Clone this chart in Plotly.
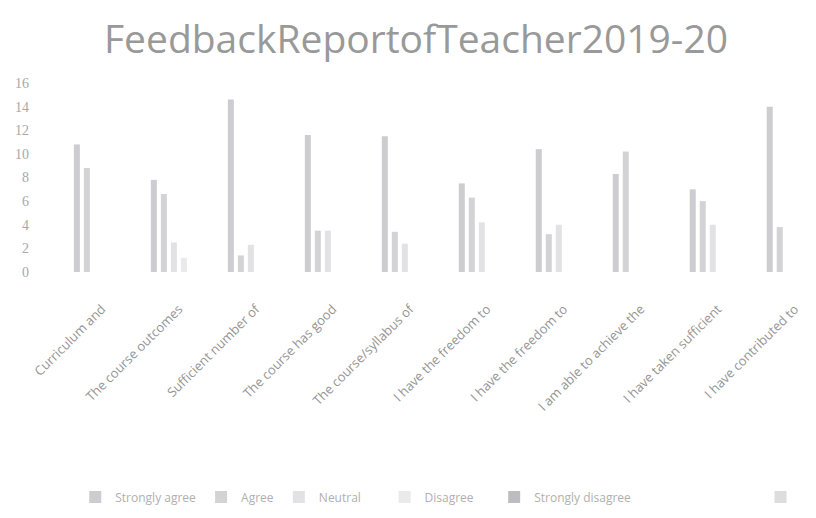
"""Feedback report of teacher 2019-20: grouped bars per question"""

import plotly.graph_objects as go

questions = [
    "Curriculum and",
    "The course outcomes",
    "Sufficient number of",
    "The course has good",
    "The course/syllabus of",
    "I have the freedom to",
    "I have the freedom to",
    "I am able to achieve the",
    "I have taken sufficient",
    "I have contributed to",
]

strongly_agree = [10.8, 7.8, 14.6, 11.6, 11.5, 7.5, 10.4, 8.3, 7.0, 14.0]
agree = [8.8, 6.6, 1.4, 3.5, 3.4, 6.3, 3.2, 10.2, 6.0, 3.8]
neutral = [0, 2.5, 2.3, 3.5, 2.4, 4.2, 4.0, 0, 4.0, 0]
disagree = [0, 1.2, 0, 0, 0, 0, 0, 0, 0, 0]
strongly_disagree = [0] * 10
blank = [0] * 10

nb = "\u00a0"
series = [
    ("Strongly agree", strongly_agree, "#cdcdd1"),
    ("Agree", agree, "#d3d3d6"),
    ("Neutral" + nb * 6, neutral, "#e2e2e4"),
    ("Disagree" + nb * 5, disagree, "#eaeaec"),
    ("Strongly disagree" + nb * 40, strongly_disagree, "#bdbdc1"),
    (" ", blank, "#dddde0"),
]

x = list(range(len(questions)))

fig = go.Figure()
for name, vals, col in series:
    fig.add_trace(go.Bar(x=x, y=vals, name=name, marker_color=col, marker_line_width=0))

fig.update_layout(
    width=816,
    height=518,
    paper_bgcolor="white",
    plot_bgcolor="white",
    margin=dict(l=22, r=0, t=75, b=254),
    barmode="group",
    bargap=0.22,
    bargroupgap=0.4,
    title=dict(
        text="FeedbackReportofTeacher2019-20",
        x=0.5,
        xref="container",
        xanchor="center",
        y=0.94,
        yanchor="middle",
        font=dict(family="Open Sans", size=39, color="#999999"),
    ),
    legend=dict(
        orientation="h",
        x=0.057,
        xanchor="left",
        y=-1.19,
        yanchor="middle",
        font=dict(family="Open Sans", size=12, color="#b0b0b0"),
        itemwidth=30,
    ),
)
fig.update_xaxes(
    tickvals=x,
    ticktext=questions,
    tickangle=-45,
    range=[-0.934, 9.38],
    showgrid=False,
    showline=False,
    zeroline=False,
    ticks="",
    ticklabelstandoff=26,
    tickfont=dict(family="Open Sans", size=13, color="#959595"),
)
fig.update_yaxes(
    range=[0, 16],
    dtick=2,
    showgrid=False,
    zeroline=False,
    showline=False,
    ticks="",
    ticklabelstandoff=0,
    tickfont=dict(family="Liberation Serif", size=14, color="#a8a8a8"),
)

fig.write_html("out.html")
